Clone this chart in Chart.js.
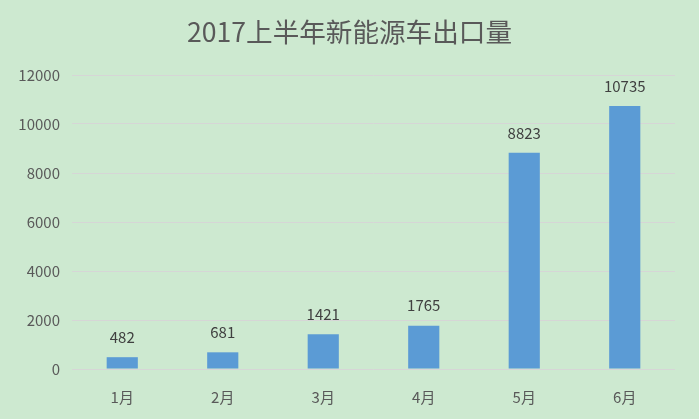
<!DOCTYPE html>
<html>
<head>
<meta charset="utf-8">
<script src="https://cdn.jsdelivr.net/npm/chart.js@4/dist/chart.umd.min.js"></script>
<style>
  html, body { margin: 0; padding: 0; background: #cde9d0; }
  #wrap { width: 699px; height: 419px; position: relative; }
</style>
</head>
<body>
<div id="wrap"><canvas id="exportChart"></canvas></div>
<script>
  const chartTitle = '2017上半年新能源车出口量';
  const months = ['1月', '2月', '3月', '4月', '5月', '6月'];
  const exports = [482, 681, 1421, 1765, 8823, 10735];
  const yMax = 12000;
  const yStep = 2000;

  const font = '"Noto Sans CJK SC", "Noto Sans", sans-serif';

  // title centred on the whole canvas, value labels above each bar
  const barLabels = {
    id: 'barLabels',
    afterDatasetsDraw(chart) {
      const ctx = chart.ctx;
      const meta = chart.getDatasetMeta(0);
      ctx.save();
      ctx.textAlign = 'center';
      ctx.textBaseline = 'middle';
      ctx.font = '26.6px ' + font;
      ctx.fillStyle = '#595959';
      ctx.fillText(chartTitle, chart.width / 2, 32);
      ctx.font = '15px ' + font;
      ctx.fillStyle = '#404040';
      meta.data.forEach((bar, i) => {
        ctx.fillText(exports[i], bar.x, bar.y - 20);
      });
      ctx.restore();
    }
  };

  new Chart(document.getElementById('exportChart'), {
    type: 'bar',
    data: {
      labels: months,
      datasets: [{
        data: exports,
        backgroundColor: '#5b9bd5',
        categoryPercentage: 1,
        barPercentage: 0.31
      }]
    },
    options: {
      responsive: true,
      maintainAspectRatio: false,
      animation: false,
      layout: { padding: { left: 0, right: 24, top: 75, bottom: 0 } },
      plugins: {
        legend: { display: false },
        tooltip: { enabled: false },
        title: { display: false }
      },
      scales: {
        x: {
          grid: { display: false },
          border: { display: false },
          ticks: { color: '#595959', font: { family: font, size: 15 }, padding: 11 },
          afterFit(scale) { scale.height = 50; }
        },
        y: {
          min: 0,
          max: yMax,
          grid: { color: '#d6d6d6', drawTicks: false },
          border: { display: false },
          ticks: {
            stepSize: yStep,
            color: '#595959',
            font: { family: font, size: 15 },
            padding: 12,
            callback: v => String(v)
          },
          afterFit(scale) { scale.width = 72; }
        }
      }
    },
    plugins: [barLabels]
  });
</script>
</body>
</html>
